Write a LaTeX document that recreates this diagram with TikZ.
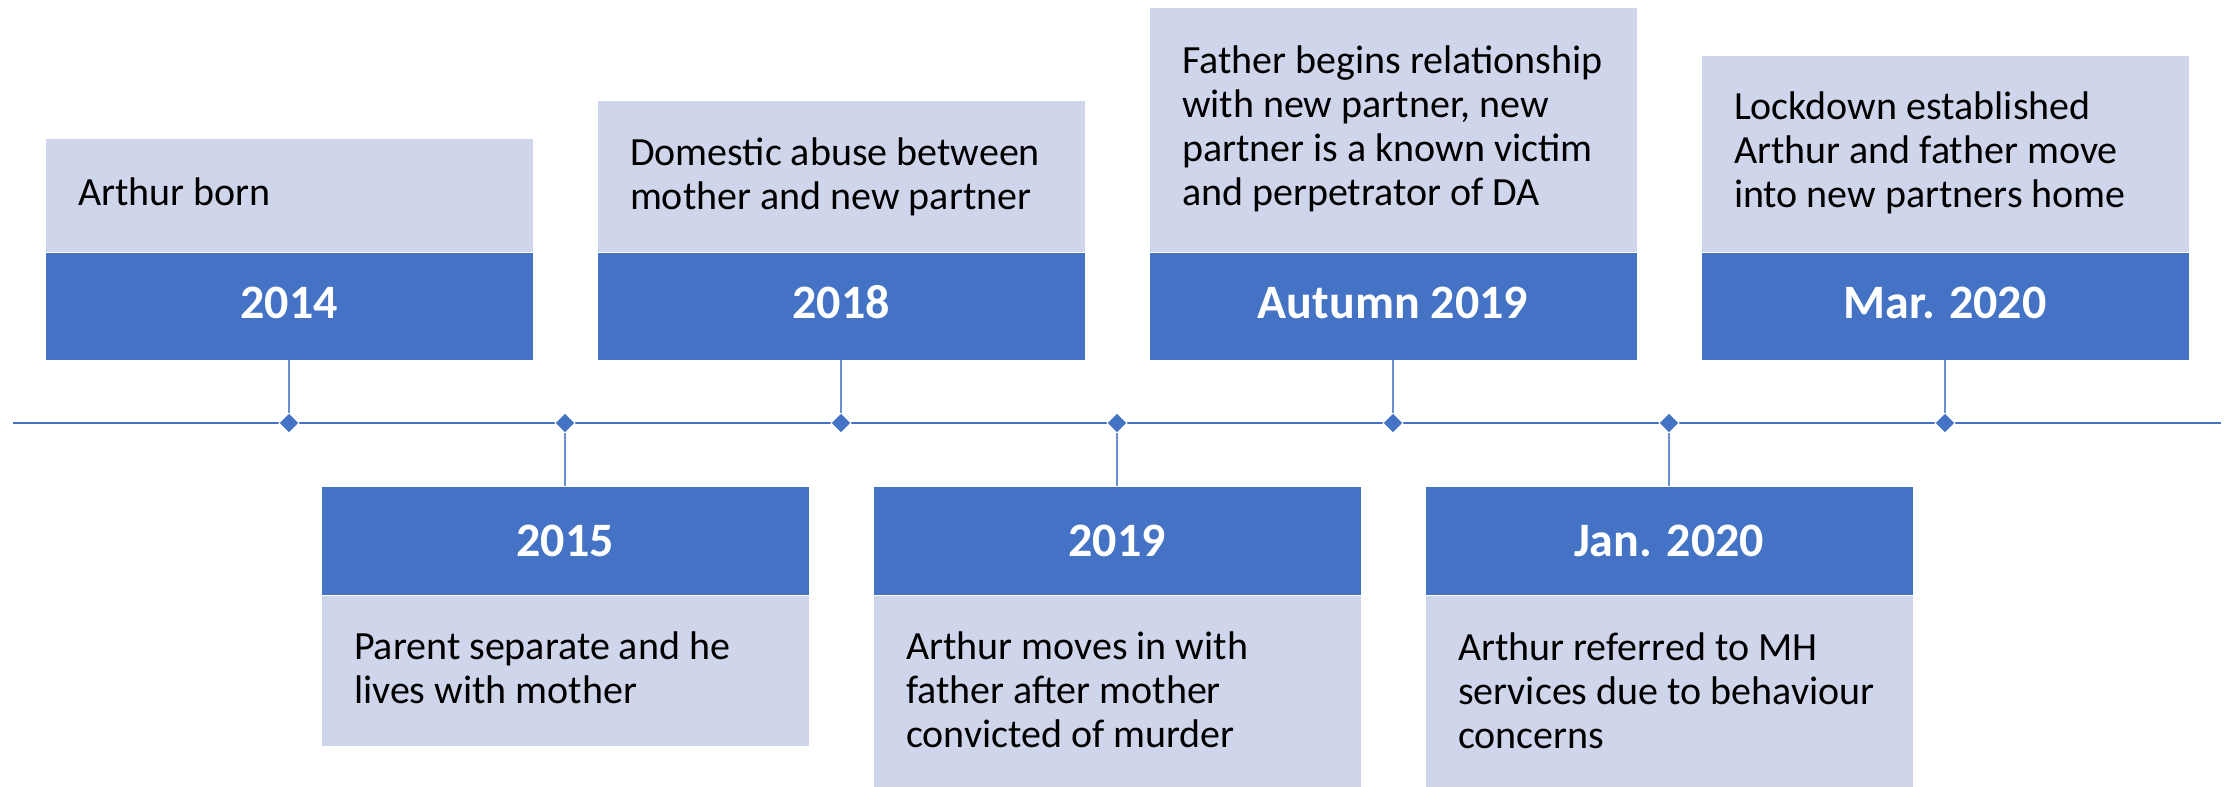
\documentclass[tikz,border=0pt]{standalone}
\usepackage{fontspec}
\setmainfont{Carlito}
\usetikzlibrary{shapes.geometric}
\definecolor{dkblue}{RGB}{68,114,196}
\definecolor{ltblue}{RGB}{207,213,234}
\definecolor{stemblue}{RGB}{105,142,210}
\begin{document}
\begin{tikzpicture}[x=1pt,y=-1pt,
  every node/.style={inner sep=0pt, outer sep=0pt},
  yearbox/.style={fill=dkblue, draw=white, line width=0.6pt, minimum width=488pt, minimum height=108pt, anchor=north west},
  notebox/.style={fill=ltblue, draw=white, line width=0.6pt, minimum width=488pt, anchor=north west},
  yeartext/.style={anchor=base, text=white, font=\fontsize{48pt}{55pt}\selectfont\bfseries},
  notetext/.style={anchor=base west, align=left, text=black, font=\fontsize{40pt}{43.7pt}\selectfont},
  dmark/.style={diamond, fill=dkblue, draw=white, line width=1pt, minimum width=20pt, minimum height=20pt},
  stem/.style={draw=stemblue, line width=1.5pt},
  axis/.style={draw=dkblue, line width=2.8pt},
]
\useasboundingbox (0,0) rectangle (2233,787);

% top row light boxes
\node[notebox, minimum height=114pt] (n1) at (45,138) {};
\node[notebox, minimum height=152pt] (n3) at (597,100) {};
\node[notebox, minimum height=245pt] (n5) at (1149,7) {};
\node[notebox, minimum height=197pt] (n7) at (1701,55) {};
% top row year boxes
\node[yearbox] (y1) at (45,252) {};
\node[yearbox] (y3) at (597,252) {};
\node[yearbox] (y5) at (1149,252) {};
\node[yearbox] (y7) at (1701,252) {};
% bottom row year boxes
\node[yearbox, minimum height=109pt] (y2) at (321,486) {};
\node[yearbox, minimum height=109pt] (y4) at (873,486) {};
\node[yearbox, minimum height=109pt] (y6) at (1425,486) {};
% bottom row light boxes
\node[notebox, minimum height=151pt] (n2) at (321,595) {};
\node[notebox, minimum height=192pt] (n4) at (873,595) {};
\node[notebox, minimum height=192pt] (n6) at (1425,595) {};

% year labels
\node[yeartext] (t1) at (289,318) {2014};
\node[yeartext] (t3) at (841,318) {2018};
\node[yeartext] (t5) at (1393,318) {Autumn 2019};
\node[yeartext] (t7) at (1945,318) {Mar. 2020};
\node[yeartext] (t2) at (565,556) {2015};
\node[yeartext] (t4) at (1117,556) {2019};
\node[yeartext] (t6) at (1669,556) {Jan. 2020};

% notes (anchored at the baseline of the last line)
\node[notetext] (m1) at (78,205) {Arthur born};
\node[notetext] (m3) at (630,209) {Domestic abuse between\\mother and new partner};
\node[notetext] (m5) at (1182,205) {Father begins relationship\\with new partner, new\\partner is a known victim\\and perpetrator of DA};
\node[notetext] (m7) at (1734,207) {Lockdown established\\Arthur and father move\\into new partners home};
\node[notetext] (m2) at (354,703) {Parent separate and he\\lives with mother};
\node[notetext] (m4) at (906,747) {Arthur moves in with\\father after mother\\convicted of murder};
\node[notetext] (m6) at (1458,748) {Arthur referred to MH\\services due to behaviour\\concerns};

% timeline
\coordinate (L) at (13,423);
\coordinate (R) at (2221,423);
\draw[axis] (L) -- (R);

\node[dmark] (d1) at (289,423) {};
\node[dmark] (d2) at (565,423) {};
\node[dmark] (d3) at (841,423) {};
\node[dmark] (d4) at (1117,423) {};
\node[dmark] (d5) at (1393,423) {};
\node[dmark] (d6) at (1669,423) {};
\node[dmark] (d7) at (1945,423) {};

\draw[stem] (y1.south) -- (d1.north);
\draw[stem] (y3.south) -- (d3.north);
\draw[stem] (y5.south) -- (d5.north);
\draw[stem] (y7.south) -- (d7.north);
\draw[stem] (d2.south) -- (y2.north);
\draw[stem] (d4.south) -- (y4.north);
\draw[stem] (d6.south) -- (y6.north);
\end{tikzpicture}
\end{document}
